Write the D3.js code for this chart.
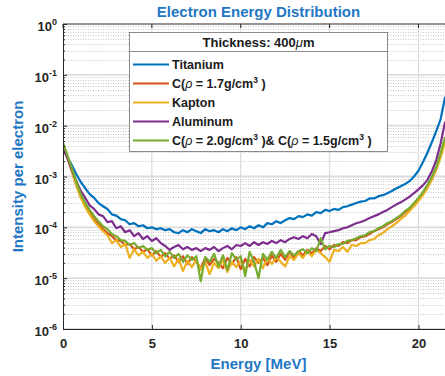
<!DOCTYPE html>
<html>
<head>
<meta charset="utf-8">
<script src="https://cdn.jsdelivr.net/npm/d3@7"></script>
<style>
body { margin: 0; background: #fff; }
svg text { font-family: "Liberation Sans", Arial, sans-serif; font-weight: bold; }
</style>
</head>
<body>
<div id="chart"></div>
<script>
// energy grid [MeV]
const energy = [
  0, 0.25, 0.5, 0.75, 1, 1.25, 1.5, 1.75, 2, 2.25,
  2.5, 2.75, 3, 3.25, 3.5, 3.75, 4, 4.25, 4.5, 4.75,
  5, 5.25, 5.5, 5.75, 6, 6.25, 6.5, 6.75, 7, 7.25,
  7.5, 7.75, 8, 8.25, 8.5, 8.75, 9, 9.25, 9.5, 9.75,
  10, 10.25, 10.5, 10.75, 11, 11.25, 11.5, 11.75, 12, 12.25,
  12.5, 12.75, 13, 13.25, 13.5, 13.75, 14, 14.25, 14.5, 14.75,
  15, 15.25, 15.5, 15.75, 16, 16.25, 16.5, 16.75, 17, 17.25,
  17.5, 17.75, 18, 18.25, 18.5, 18.75, 19, 19.25, 19.5, 19.75,
  20, 20.25, 20.5, 20.75, 21, 21.25, 21.5
];

const titanium = [
  3.6e-3, 2.4e-3, 1.67e-3, 1.11e-3, 7.8e-4, 5.9e-4, 4.5e-4, 3.8e-4, 3.0e-4, 2.6e-4,
  2.3e-4, 1.8e-4, 1.7e-4, 1.45e-4, 1.38e-4, 1.15e-4, 1.21e-4, 1.05e-4, 1.1e-4, 9.6e-5,
  1.0e-4, 9.2e-5, 9.6e-5, 8.8e-5, 9.2e-5, 8.0e-5, 7.7e-5, 8.8e-5, 8.0e-5, 9.2e-5,
  8.4e-5, 7.7e-5, 9.2e-5, 8.4e-5, 8.8e-5, 8.0e-5, 9.2e-5, 8.4e-5, 9.6e-5, 8.8e-5,
  1.0e-4, 9.2e-5, 1.05e-4, 9.6e-5, 1.1e-4, 1.0e-4, 1.21e-4, 1.15e-4, 1.32e-4, 1.21e-4,
  1.38e-4, 1.52e-4, 1.45e-4, 1.66e-4, 1.59e-4, 1.8e-4, 1.7e-4, 2.0e-4, 1.9e-4, 2.2e-4,
  2.1e-4, 2.3e-4, 2.2e-4, 2.5e-4, 2.6e-4, 2.8e-4, 3.0e-4, 3.2e-4, 3.3e-4, 3.7e-4,
  3.7e-4, 4.1e-4, 4.3e-4, 4.7e-4, 5.2e-4, 5.8e-4, 6.4e-4, 7.1e-4, 8.1e-4, 1.0e-3,
  1.3e-3, 1.9e-3, 2.9e-3, 4.7e-3, 7.8e-3, 1.35e-2, 3.7e-2
];

const carbon17 = [
  4.2e-3, 2.4e-3, 1.34e-3, 7.1e-4, 4.1e-4, 2.7e-4, 2.0e-4, 1.45e-4, 1.15e-4, 9.2e-5,
  7.7e-5, 6.7e-5, 5.6e-5, 5.4e-5, 4.5e-5, 4.7e-5, 3.7e-5, 4.1e-5, 3.3e-5, 3.7e-5,
  2.8e-5, 3.4e-5, 2.6e-5, 3.1e-5, 2.4e-5, 2.8e-5, 2.1e-5, 2.7e-5, 1.9e-5, 2.6e-5,
  2.1e-5, 1.57e-5, 2.5e-5, 1.8e-5, 2.4e-5, 2.0e-5, 1.57e-5, 2.5e-5, 1.9e-5, 2.6e-5,
  1.5e-5, 2.4e-5, 1.7e-5, 2.6e-5, 2.0e-5, 2.5e-5, 1.8e-5, 2.8e-5, 2.1e-5, 3.0e-5,
  2.3e-5, 3.3e-5, 2.5e-5, 3.4e-5, 2.8e-5, 3.6e-5, 3.1e-5, 3.9e-5, 3.4e-5, 4.3e-5,
  3.7e-5, 4.5e-5, 4.3e-5, 5.1e-5, 4.9e-5, 5.6e-5, 5.6e-5, 6.4e-5, 6.7e-5, 7.4e-5,
  8.4e-5, 9.2e-5, 1.0e-4, 1.15e-4, 1.27e-4, 1.45e-4, 1.66e-4, 2.0e-4, 2.3e-4, 2.9e-4,
  3.6e-4, 4.7e-4, 6.5e-4, 9.3e-4, 1.46e-3, 2.6e-3, 5.5e-3
];

const kapton = [
  4.0e-3, 2.3e-3, 1.22e-3, 6.5e-4, 3.8e-4, 2.5e-4, 1.8e-4, 1.32e-4, 1.05e-4, 8.4e-5,
  7.0e-5, 4.9e-5, 5.6e-5, 4.1e-5, 4.7e-5, 2.5e-5, 3.7e-5, 2.8e-5, 3.3e-5, 2.5e-5,
  3.0e-5, 2.2e-5, 2.7e-5, 2.0e-5, 2.5e-5, 1.7e-5, 2.4e-5, 1.38e-5, 2.2e-5, 1.64e-5,
  2.3e-5, 1.44e-5, 2.1e-5, 1.2e-5, 2.0e-5, 1.57e-5, 2.3e-5, 1.32e-5, 2.1e-5, 1.64e-5,
  2.2e-5, 1.44e-5, 2.3e-5, 1.7e-5, 2.4e-5, 1.57e-5, 2.5e-5, 1.9e-5, 2.6e-5, 2.1e-5,
  1.7e-5, 2.7e-5, 2.3e-5, 3.1e-5, 2.5e-5, 3.4e-5, 2.7e-5, 3.6e-5, 3.1e-5, 2.6e-5,
  2.1e-5, 3.6e-5, 3.4e-5, 4.1e-5, 3.3e-5, 4.5e-5, 4.3e-5, 4.9e-5, 4.9e-5, 5.6e-5,
  5.9e-5, 7.0e-5, 7.7e-5, 9.2e-5, 1.05e-4, 1.21e-4, 1.45e-4, 1.7e-4, 2.1e-4, 2.6e-4,
  3.3e-4, 4.3e-4, 5.9e-4, 8.5e-4, 1.34e-3, 2.4e-3, 4.7e-3
];

const aluminum = [
  3.6e-3, 2.3e-3, 1.34e-3, 8.1e-4, 5.2e-4, 3.8e-4, 2.7e-4, 2.3e-4, 1.8e-4, 1.66e-4,
  1.27e-4, 1.32e-4, 9.6e-5, 1.05e-4, 8.0e-5, 8.8e-5, 6.7e-5, 7.7e-5, 5.9e-5, 6.7e-5,
  5.4e-5, 6.1e-5, 4.9e-5, 4.3e-5, 3.6e-5, 4.1e-5, 4.5e-5, 3.7e-5, 4.1e-5, 3.6e-5,
  3.9e-5, 3.4e-5, 3.9e-5, 3.6e-5, 4.1e-5, 3.4e-5, 3.9e-5, 4.3e-5, 3.7e-5, 4.5e-5,
  4.3e-5, 4.9e-5, 4.3e-5, 5.1e-5, 4.5e-5, 5.1e-5, 4.7e-5, 5.4e-5, 4.9e-5, 5.6e-5,
  5.1e-5, 5.9e-5, 6.4e-5, 5.9e-5, 6.7e-5, 6.1e-5, 7.4e-5, 6.7e-5, 4.7e-5, 7.7e-5,
  8.0e-5, 8.4e-5, 8.8e-5, 9.6e-5, 1.0e-4, 1.1e-4, 1.2e-4, 1.27e-4, 1.38e-4, 1.52e-4,
  1.66e-4, 1.8e-4, 2.0e-4, 2.2e-4, 2.5e-4, 2.8e-4, 3.1e-4, 3.5e-4, 4.0e-4, 4.7e-4,
  5.6e-4, 6.7e-4, 8.5e-4, 1.25e-3, 2.1e-3, 4.5e-3, 1.2e-2
];

const carbon2015 = [
  4.7e-3, 2.6e-3, 1.46e-3, 7.8e-4, 4.5e-4, 3.0e-4, 2.2e-4, 1.66e-4, 1.32e-4, 1.05e-4,
  9.2e-5, 7.4e-5, 6.7e-5, 5.6e-5, 5.4e-5, 4.5e-5, 4.9e-5, 3.9e-5, 4.3e-5, 3.6e-5,
  3.9e-5, 3.1e-5, 3.6e-5, 2.7e-5, 3.3e-5, 2.5e-5, 3.0e-5, 2.1e-5, 2.8e-5, 2.3e-5,
  2.7e-5, 8.7e-6, 2.6e-5, 2.1e-5, 3.0e-5, 1.7e-5, 2.8e-5, 1.44e-5, 3.1e-5, 2.3e-5,
  2.7e-5, 1.1e-5, 3.3e-5, 2.1e-5, 1.0e-5, 3.0e-5, 2.3e-5, 3.3e-5, 2.5e-5, 3.6e-5,
  2.6e-5, 3.4e-5, 2.8e-5, 3.4e-5, 3.7e-5, 3.1e-5, 3.9e-5, 3.4e-5, 6.1e-5, 3.7e-5,
  4.3e-5, 4.1e-5, 4.7e-5, 4.7e-5, 5.4e-5, 5.6e-5, 6.1e-5, 6.7e-5, 7.0e-5, 8.0e-5,
  8.4e-5, 9.6e-5, 1.05e-4, 1.21e-4, 1.32e-4, 1.52e-4, 1.73e-4, 2.1e-4, 2.4e-4, 3.0e-4,
  3.8e-4, 4.9e-4, 6.8e-4, 9.7e-4, 1.53e-3, 2.9e-3, 6.0e-3
];

// legend labels, split into runs (i = italic, sup = superscript)
const legendLabels = [
  [{ t: "Titanium" }],
  [{ t: "C(" }, { t: "ρ", i: true }, { t: " = 1.7g/cm" }, { t: "3", sup: true }, { t: " )" }],
  [{ t: "Kapton" }],
  [{ t: "Aluminum" }],
  [{ t: "C(" }, { t: "ρ", i: true }, { t: " = 2.0g/cm" }, { t: "3", sup: true }, { t: " )& C(" },
   { t: "ρ", i: true }, { t: " = 1.5g/cm" }, { t: "3", sup: true }, { t: " )" }]
];
const colors = ["#0072BD", "#D95319", "#EDB120", "#7E2F8E", "#77AC30"];
const seriesValues = [titanium, carbon17, kapton, aluminum, carbon2015];

const yTickExponents = [0, -1, -2, -3, -4, -5, -6];
const xTicks = [0, 5, 10, 15, 20];

const width = 445, height = 376;
const plotLeft = 63, plotTop = 24, plotBottom = 329, plotRight = 454;

const svg = d3.select("#chart").append("svg")
  .attr("width", width)
  .attr("height", height);

const x = d3.scaleLinear().domain([0, 22]).range([plotLeft, plotRight]);
const y = d3.scaleLog().domain([1e-6, 1]).range([plotBottom, plotTop]);

// grid
const minorVals = [];
yTickExponents.slice(1).forEach(e => {
  for (let m = 2; m <= 9; m++) minorVals.push(m * Math.pow(10, e));
});

svg.append("g")
  .selectAll("line")
  .data(minorVals)
  .join("line")
  .attr("x1", plotLeft).attr("x2", plotRight)
  .attr("y1", d => Math.round(y(d)) + 0.5).attr("y2", d => Math.round(y(d)) + 0.5)
  .attr("stroke", "#c8c8c8")
  .attr("stroke-dasharray", "1,1.5");

svg.append("g")
  .selectAll("line")
  .data(yTickExponents.map(e => Math.pow(10, e)))
  .join("line")
  .attr("x1", plotLeft).attr("x2", plotRight)
  .attr("y1", d => y(d)).attr("y2", d => y(d))
  .attr("stroke", "#dcdcdc")
  .attr("stroke-width", 1.8);

svg.append("g")
  .selectAll("line")
  .data(xTicks.slice(1))
  .join("line")
  .attr("x1", d => x(d)).attr("x2", d => x(d))
  .attr("y1", plotTop).attr("y2", plotBottom)
  .attr("stroke", "#dcdcdc")
  .attr("stroke-width", 1.2);

// curves
svg.append("clipPath").attr("id", "plotclip")
  .append("rect")
  .attr("x", plotLeft).attr("y", plotTop)
  .attr("width", plotRight - plotLeft).attr("height", plotBottom - plotTop);

const line = d3.line()
  .x(d => x(d[0]))
  .y(d => y(d[1]));

svg.append("g")
  .attr("clip-path", "url(#plotclip)")
  .selectAll("path")
  .data(seriesValues)
  .join("path")
  .attr("d", vals => line(energy.map((e, i) => [e, vals[i]])))
  .attr("fill", "none")
  .attr("stroke", (d, i) => colors[i])
  .attr("stroke-width", 2.2)
  .attr("stroke-linejoin", "round");

// axes
const axisColor = "#262626";

const xAxis = d3.axisBottom(x)
  .tickValues(xTicks)
  .tickSizeInner(-4)
  .tickSizeOuter(0)
  .tickFormat(d3.format("d"));

const gx = svg.append("g")
  .attr("transform", "translate(0," + plotBottom + ")")
  .call(xAxis);
gx.attr("font-family", null);
gx.select(".domain").attr("stroke", axisColor);
gx.selectAll(".tick line").attr("stroke", axisColor);
gx.selectAll("text")
  .attr("fill", axisColor)
  .attr("font-size", 13)
  .attr("y", 10)
  .attr("dy", "0.71em");

const yAxis = d3.axisLeft(y)
  .tickValues(yTickExponents.map(e => Math.pow(10, e)))
  .tickSizeInner(-4)
  .tickSizeOuter(0)
  .tickFormat("");

const gy = svg.append("g")
  .attr("transform", "translate(" + plotLeft + ",0)")
  .call(yAxis);
gy.select(".domain").attr("stroke", axisColor);
gy.selectAll(".tick line").attr("stroke", axisColor);

const yMinor = d3.axisLeft(y)
  .tickValues(minorVals)
  .tickSizeInner(-2)
  .tickSizeOuter(0)
  .tickFormat("");
const gym = svg.append("g")
  .attr("transform", "translate(" + plotLeft + ",0)")
  .call(yMinor);
gym.select(".domain").remove();
gym.selectAll(".tick line").attr("stroke", axisColor);

// y tick labels 10^n
const yLabels = svg.append("g")
  .selectAll("text")
  .data(yTickExponents)
  .join("text")
  .attr("x", 57)
  .attr("y", e => y(Math.pow(10, e)) + 7)
  .attr("text-anchor", "end")
  .attr("fill", axisColor)
  .attr("font-size", 13);
yLabels.append("tspan").text("10");
yLabels.append("tspan")
  .attr("font-size", 9)
  .attr("dy", -6)
  .text(e => e === 0 ? "0" : "-" + Math.abs(e));

// box top edge
svg.append("line")
  .attr("x1", plotLeft).attr("x2", plotRight)
  .attr("y1", plotTop).attr("y2", plotTop)
  .attr("stroke", axisColor)
  .attr("stroke-width", 0.8);
svg.append("g")
  .selectAll("line")
  .data(xTicks)
  .join("line")
  .attr("x1", d => x(d)).attr("x2", d => x(d))
  .attr("y1", plotTop).attr("y2", plotTop + 4)
  .attr("stroke", axisColor);

// titles
const blue = "#1f77c4";
svg.append("text")
  .attr("x", (plotLeft + plotRight) / 2)
  .attr("y", 17)
  .attr("text-anchor", "middle")
  .attr("font-size", 15)
  .attr("fill", blue)
  .text("Electron Energy Distribution");

svg.append("text")
  .attr("x", (plotLeft + plotRight) / 2)
  .attr("y", 369)
  .attr("text-anchor", "middle")
  .attr("font-size", 15)
  .attr("fill", blue)
  .text("Energy [MeV]");

svg.append("text")
  .attr("transform", "translate(23," + ((plotTop + plotBottom) / 2) + ") rotate(-90)")
  .attr("text-anchor", "middle")
  .attr("font-size", 15)
  .attr("fill", blue)
  .text("Intensity per electron");

// legend
const lg = svg.append("g");
lg.append("rect")
  .attr("x", 129.5).attr("y", 32.5)
  .attr("width", 258).attr("height", 119)
  .attr("fill", "#fff")
  .attr("stroke", "#8a8a8a");
lg.append("line")
  .attr("x1", 129.5).attr("x2", 387.5)
  .attr("y1", 51.5).attr("y2", 51.5)
  .attr("stroke", "#8a8a8a");

const lgTitle = lg.append("text")
  .attr("x", 258.5)
  .attr("y", 47)
  .attr("text-anchor", "middle")
  .attr("font-size", 13)
  .attr("fill", "#1a1a1a");
lgTitle.append("tspan").text("Thickness: 400");
lgTitle.append("tspan").attr("font-style", "italic").attr("font-weight", "normal").text("μ");
lgTitle.append("tspan").text("m");

const rows = lg.selectAll(".entry")
  .data(legendLabels)
  .join("g")
  .attr("class", "entry")
  .attr("transform", (d, i) => "translate(0," + (64.5 + i * 19) + ")");

rows.append("line")
  .attr("x1", 133).attr("x2", 169)
  .attr("y1", 0).attr("y2", 0)
  .attr("stroke", (d, i) => colors[i])
  .attr("stroke-width", 2.2);

const rowText = rows.append("text")
  .attr("x", 172)
  .attr("y", 4.5)
  .attr("font-size", 12.5)
  .attr("fill", "#1a1a1a");

rowText.each(function (runs) {
  const t = d3.select(this);
  let raised = false;
  runs.forEach(r => {
    const s = t.append("tspan").text(r.t);
    if (r.i) s.attr("font-style", "italic").attr("font-weight", "normal");
    if (r.sup) {
      s.attr("font-size", 8.5).attr("dy", -5);
      raised = true;
    } else if (raised) {
      s.attr("dy", 5);
      raised = false;
    }
  });
});
</script>
</body>
</html>
